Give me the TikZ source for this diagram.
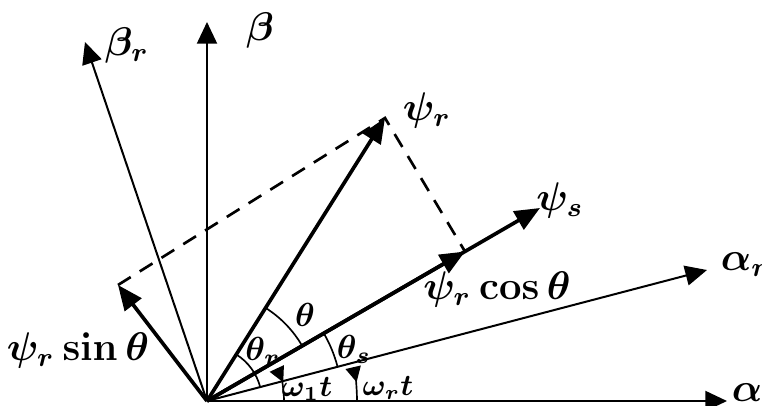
\documentclass[tikz,border=0pt]{standalone}
\usepackage{amsmath}
\usepackage{tikz}
\usetikzlibrary{arrows.meta, calc}

\begin{document}
\begin{tikzpicture}[x=0.3pt, y=0.3pt,
  axis/.style={line width=0.6pt, -{Triangle[length=6.5pt, width=6pt]}},
  vec/.style={line width=1.1pt, -{Triangle[length=7.5pt, width=6.2pt]}},
  proj/.style={line width=0.8pt, dash pattern=on 4.5pt off 3.2pt},
  ang/.style={line width=0.5pt},
  angarr/.style={line width=0.5pt, -{Triangle[reversed, length=4.6pt, width=4.6pt]}},
  lbl/.style={font=\fontsize{11.5}{13}\selectfont\boldmath, inner sep=0pt},
  albl/.style={font=\normalsize\boldmath, inner sep=0pt},
  wlbl/.style={font=\small\boldmath, inner sep=0pt}]
  \useasboundingbox (-207,-4) rectangle (555,401);

  % origin and tips
  \coordinate (O) at (0,0);
  \coordinate (alpha) at (520,0);
  \coordinate (beta) at (0,379);
  \coordinate (alphar) at (500,131);
  \coordinate (betar) at (-122,359);
  \coordinate (psir) at (178,283);
  \coordinate (psis) at (333,193);
  \coordinate (psicos) at (258,149.5);
  \coordinate (psisin) at (-89,116);

  % stationary and rotor axes
  \draw[axis] (O) -- (alpha);
  \draw[axis] (O) -- (beta);
  \draw[axis] (O) -- (alphar);
  \draw[axis] (O) -- (betar);

  % flux vectors
  \draw[vec] (O) -- (psir);
  \draw[vec] (O) -- (psis);
  \draw[vec] (O) -- (psicos);
  \draw[vec] (O) -- (psisin);

  % projection lines
  \draw[proj] (psisin) -- (psir) -- (psicos);

  % angles
  \draw[ang] (O) ++(30.1:110) arc[start angle=30.1, end angle=57.8, radius=110];
  \draw[ang] (O) ++(14.7:55) arc[start angle=14.7, end angle=57.8, radius=55];
  \draw[ang] (O) ++(14.7:135) arc[start angle=14.7, end angle=30.1, radius=135];
  \draw[angarr] (O) ++(0:77) arc[start angle=0, end angle=25, radius=77];
  \draw[angarr] (O) ++(0:150) arc[start angle=0, end angle=13, radius=150];

  % labels
  \node[lbl] (alphalbl) at (540,8) {$\alpha$};
  \node[lbl] (alpharlbl) at (538,136) {$\alpha_r$};
  \node[lbl] (betalbl) at (53,371) {$\beta$};
  \node[lbl] (betarlbl) at (-80,356) {$\beta_r$};
  \node[lbl] (psirlbl) at (220,291) {$\psi_r$};
  \node[lbl] (psislbl) at (353,201) {$\psi_s$};
  \node[lbl] (psicoslbl) at (290,112) {$\psi_r\cos\theta$};
  \node[lbl] (psisinlbl) at (-129,51) {$\psi_r\sin\theta$};
  \node[albl] (thetalbl) at (98,86) {$\theta$};
  \node[albl] (thetarlbl) at (56,50) {$\theta_r$};
  \node[albl] (thetaslbl) at (147,52) {$\theta_s$};
  \node[wlbl] (womlbl) at (100,12) {$\omega_1t$};
  \node[wlbl] (wrlbl) at (181,13) {$\omega_rt$};
\end{tikzpicture}
\end{document}
